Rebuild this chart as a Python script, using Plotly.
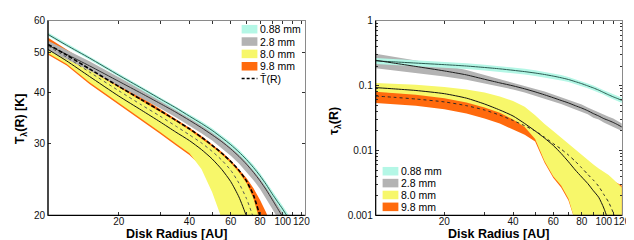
import math
import plotly.graph_objects as go

# ---------------- data: left panel, temperature T_lambda(R) [K] ----------------
R_T = [10, 12, 15, 20, 25, 30, 35, 40, 45, 50, 55, 60, 65, 70, 75, 80, 85, 90, 95, 100, 105, 110]

T_088_mid = [55.5, 52.2, 48.6, 44.1, 41.0, 38.6, 36.7, 35.0, 33.6, 32.3, 31.0, 29.8, 28.6, 27.4, 26.2, 25.0, 23.8, 22.6, 21.6, 20.7, 19.8, 19.0]
T_088_lo = [55.0, 51.7, 48.1, 43.7, 40.6, 38.2, 36.3, 34.6, 33.2, 31.9, 30.6, 29.4, 28.2, 27.0, 25.8, 24.6, 23.4, 22.2, 21.2, 20.3, 19.4, 18.6]
T_088_hi = [56.1, 52.8, 49.1, 44.6, 41.5, 39.0, 37.1, 35.4, 34.0, 32.7, 31.4, 30.2, 29.0, 27.8, 26.6, 25.4, 24.2, 23.0, 22.0, 21.1, 20.2, 19.4]

T_28_mid = [52.2, 49.6, 46.5, 42.6, 39.8, 37.6, 35.8, 34.2, 32.8, 31.5, 30.3, 29.1, 27.9, 26.7, 25.5, 24.3, 23.1, 21.9, 20.8, 19.8, 18.8, 17.9]
T_28_lo = [50.8, 48.3, 45.3, 41.5, 38.8, 36.6, 34.8, 33.2, 31.8, 30.5, 29.2, 28.0, 26.8, 25.6, 24.4, 23.2, 22.0, 20.8, 19.7, 18.7, 17.7, 16.8]
T_28_hi = [53.6, 50.9, 47.7, 43.6, 40.7, 38.4, 36.6, 35.0, 33.6, 32.3, 31.1, 29.9, 28.7, 27.5, 26.3, 25.1, 23.9, 22.7, 21.6, 20.6, 19.6, 18.6]

T_80_mid = [51.0, 47.8, 43.8, 39.2, 36.2, 33.9, 32.0, 30.5, 29.0, 27.5, 25.9, 24.2, 22.2, 19.9, 17.5]
T_80_lo = [49.9, 47.0, 42.4, 37.8, 34.5, 32.0, 30.0, 28.4, 26.0, 22.8, 19.6, 16.5, 14.0, 12.0, 10.5, 9.5, 8.5]
T_80_hi = [52.0, 49.0, 45.4, 41.2, 38.2, 35.9, 34.0, 32.4, 30.9, 29.5, 28.2, 26.9, 25.5, 24.0, 22.0, 19.5, 17.0]

T_98_mid = [52.0, 48.8, 44.9, 40.4, 37.3, 35.0, 33.1, 31.5, 30.1, 28.7, 27.3, 25.8, 24.0, 22.0, 19.7, 17.3]
T_98_lo = [49.5, 46.6, 42.0, 37.4, 34.2, 31.7, 29.7, 28.1, 26.4, 23.8, 21.0, 18.0, 15.0, 12.5, 10.5, 9.0, 8.0, 7.0]
T_98_hi = [54.5, 51.0, 47.0, 42.3, 39.0, 36.5, 34.4, 32.8, 31.3, 29.9, 28.6, 27.3, 26.0, 24.7, 23.3, 21.8, 20.3, 18.7]

T_mean = [52.5, 49.4, 45.7, 41.4, 38.4, 36.1, 34.2, 32.6, 31.1, 29.7, 28.4, 27.1, 25.8, 24.3, 22.4, 19.9, 17.2]

# ---------------- data: right panel, optical depth tau_lambda(R) ----------------
R_tau = [10, 12, 15, 20, 25, 30, 35, 40, 45, 50, 55, 60, 65, 70, 75, 80, 85, 90, 95, 100, 105, 110, 115, 120]

tau_088_mid = [0.240, 0.232, 0.222, 0.210, 0.200, 0.190, 0.181, 0.172, 0.164, 0.156, 0.148, 0.140, 0.132, 0.124, 0.115, 0.107, 0.099, 0.092, 0.085, 0.078, 0.072, 0.067, 0.063, 0.059]
tau_088_lo = [0.214, 0.207, 0.199, 0.189, 0.180, 0.171, 0.163, 0.155, 0.148, 0.141, 0.134, 0.127, 0.120, 0.113, 0.105, 0.098, 0.091, 0.084, 0.078, 0.072, 0.066, 0.061, 0.058, 0.054]
tau_088_hi = [0.266, 0.257, 0.246, 0.232, 0.221, 0.210, 0.200, 0.190, 0.181, 0.172, 0.163, 0.154, 0.145, 0.136, 0.126, 0.117, 0.108, 0.100, 0.093, 0.085, 0.079, 0.073, 0.069, 0.065]

tau_28_mid = [0.245, 0.222, 0.197, 0.168, 0.146, 0.125, 0.110, 0.099, 0.089, 0.080, 0.072, 0.065, 0.059, 0.054, 0.049, 0.045, 0.041, 0.037, 0.034, 0.031, 0.029, 0.027, 0.025, 0.023]
tau_28_lo = [0.185, 0.172, 0.157, 0.138, 0.123, 0.108, 0.096, 0.087, 0.078, 0.070, 0.063, 0.057, 0.052, 0.047, 0.043, 0.039, 0.036, 0.032, 0.030, 0.027, 0.025, 0.023, 0.022, 0.020]
tau_28_hi = [0.310, 0.280, 0.245, 0.205, 0.174, 0.146, 0.126, 0.112, 0.100, 0.090, 0.081, 0.073, 0.066, 0.061, 0.055, 0.051, 0.046, 0.042, 0.038, 0.035, 0.033, 0.031, 0.028, 0.026]

tau_80_mid = [0.093, 0.089, 0.084, 0.075, 0.064, 0.052, 0.042, 0.034, 0.026, 0.020, 0.0155, 0.012, 0.0090, 0.0067, 0.0050, 0.0039, 0.0031, 0.0024, 0.0019, 0.0013, 0.0008, 0.0005]
tau_80_lo = [0.080, 0.077, 0.072, 0.064, 0.055, 0.046, 0.038, 0.030, 0.023, 0.0150, 0.0068, 0.0040, 0.0029, 0.0018, 0.0008, 0.0005, 0.0005, 0.0005, 0.0005, 0.0005, 0.0005, 0.0005, 0.0005, 0.0005]
tau_80_hi = [0.110, 0.107, 0.103, 0.095, 0.087, 0.078, 0.068, 0.058, 0.047, 0.035, 0.0255, 0.0199, 0.0158, 0.0127, 0.0104, 0.0084, 0.0071, 0.0061, 0.0053, 0.0047, 0.0042, 0.0036, 0.0031, 0.0027]

tau_98_mid = [0.069, 0.066, 0.062, 0.056, 0.049, 0.042, 0.035, 0.029, 0.024, 0.020, 0.016, 0.0128, 0.0105, 0.0085, 0.0068, 0.0054, 0.0043, 0.0035, 0.0028, 0.0021, 0.0016, 0.0011, 0.0007]
tau_98_lo = [0.054, 0.052, 0.049, 0.043, 0.037, 0.031, 0.026, 0.021, 0.0175, 0.0138, 0.0065, 0.0038, 0.0027, 0.0017, 0.00075, 0.0004, 0.0004, 0.0004, 0.0004, 0.0004, 0.0004, 0.0004, 0.0004, 0.0004]
tau_98_hi = [0.082, 0.079, 0.074, 0.066, 0.057, 0.048, 0.040, 0.032, 0.025, 0.018, 0.012, 0.009, 0.0075, 0.0065, 0.0058, 0.0052, 0.0047, 0.0044, 0.0042, 0.0040, 0.0037, 0.0034, 0.0031, 0.0029]

wavelengths = ["0.88 mm", "2.8 mm", "8.0 mm", "9.8 mm"]
mean_label = "T\u0304(R)"

# ---------------- styles ----------------
FILL = {"0.88 mm": "#b4f7e6", "2.8 mm": "#b3b3b3", "8.0 mm": "#f7f76a", "9.8 mm": "#ff6a0d"}
LINE = {"0.88 mm": "#2c5c52", "2.8 mm": "#333333", "8.0 mm": "#111111", "9.8 mm": "#555555"}
FONT = "Liberation Sans, Arial, Helvetica, sans-serif"
W, H = 634, 240

fig = go.Figure()


def band(x, lo, hi, name, xa, ya):
    fig.add_trace(go.Scatter(x=x[:len(lo)], y=lo, mode="lines", line=dict(width=0),
                             showlegend=False, hoverinfo="skip", xaxis=xa, yaxis=ya))
    fig.add_trace(go.Scatter(x=x[:len(hi)], y=hi, mode="lines", line=dict(width=0),
                             fill="tonexty", fillcolor=FILL[name], name=name, showlegend=False,
                             hoverinfo="skip", xaxis=xa, yaxis=ya))


def curve(x, y, color, xa, ya, dash="solid", width=1.0):
    fig.add_trace(go.Scatter(x=x[:len(y)], y=y, mode="lines",
                             line=dict(color=color, width=width, dash=dash, shape="spline", smoothing=0.6),
                             showlegend=False, hoverinfo="skip", xaxis=xa, yaxis=ya))


# left panel bands (bottom to top)
band(R_T, T_98_lo, T_98_hi, "9.8 mm", "x", "y")
band(R_T, T_80_lo, T_80_hi, "8.0 mm", "x", "y")
band(R_T, T_28_lo, T_28_hi, "2.8 mm", "x", "y")
band(R_T, T_088_lo, T_088_hi, "0.88 mm", "x", "y")
curve(R_T, T_088_mid, LINE["0.88 mm"], "x", "y")
curve(R_T, T_28_mid, LINE["2.8 mm"], "x", "y")
curve(R_T, T_80_mid, LINE["8.0 mm"], "x", "y")
curve(R_T, T_98_mid, LINE["9.8 mm"], "x", "y", dash="dot")
curve(R_T, T_mean, "#000000", "x", "y", dash="4px,2px", width=1.6)

# right panel bands
band(R_tau, tau_98_lo, tau_98_hi, "9.8 mm", "x2", "y2")
band(R_tau, tau_80_lo, tau_80_hi, "8.0 mm", "x2", "y2")
band(R_tau, tau_28_lo, tau_28_hi, "2.8 mm", "x2", "y2")
band(R_tau, tau_088_lo, tau_088_hi, "0.88 mm", "x2", "y2")
curve(R_tau, tau_088_mid, LINE["0.88 mm"], "x2", "y2")
curve(R_tau, tau_28_mid, "#1e1e1e", "x2", "y2")
curve(R_tau, tau_80_mid, LINE["8.0 mm"], "x2", "y2")
curve(R_tau, tau_98_mid, "#2a2a2a", "x2", "y2", dash="dot")

# ---------------- axes ----------------
def px2x(p):
    return p / W


def px2y(p):
    return 1 - p / H


L_dom = [px2x(40.7), px2x(301.0)]
R_dom = [px2x(373.0), px2x(622.7)]
Y_dom = [px2y(212.0), px2y(7.0)]

x_ticks = [20, 30, 40, 50, 60, 70, 80, 90, 100, 110, 120]
x_text = ["20", "", "40", "", "60", "", "80", "", "100", "", "120"]
yT_ticks = [20, 30, 40, 50, 60]
ytau_ticks = [0.001, 0.01, 0.1, 1]
ytau_text = ["0.001", "0.01", "0.1", "1"]

common = dict(showgrid=False, zeroline=False, showline=True, linecolor="#8a8a8a", linewidth=1,
              mirror="ticks", ticks="inside", ticklen=3, tickcolor="#333333", tickangle=0,
              tickfont=dict(family=FONT, size=10, color="#111111"))

fig.update_layout(
    width=W, height=H, margin=dict(l=0, r=0, t=0, b=0),
    paper_bgcolor="white", plot_bgcolor="white", showlegend=False,
    font=dict(family=FONT, size=10, color="black"),
    xaxis=dict(type="log", domain=L_dom, range=[1, math.log10(124)], tickvals=x_ticks, ticktext=x_text,
               anchor="y", ticklabelstandoff=-3, **common),
    yaxis=dict(type="log", domain=Y_dom, range=[math.log10(20), math.log10(60)], tickvals=yT_ticks,
               anchor="x", **common),
    xaxis2=dict(type="log", domain=R_dom, range=[1, math.log10(120)], tickvals=x_ticks, ticktext=x_text,
                anchor="y2", ticklabelstandoff=-3, **common),
    yaxis2=dict(type="log", domain=Y_dom, range=[-3, 0], tickvals=ytau_ticks, ticktext=ytau_text,
                anchor="x2", minor=dict(ticks="inside", ticklen=2, tickcolor="#333333",
                                        tickvals=[0.002, 0.003, 0.004, 0.005, 0.006, 0.007, 0.008, 0.009,
                                                  0.02, 0.03, 0.04, 0.05, 0.06, 0.07, 0.08, 0.09,
                                                  0.2, 0.3, 0.4, 0.5, 0.6, 0.7, 0.8, 0.9]),
                **common),
)

# black left/bottom frame lines
for xa, ya in (("x", "y"), ("x2", "y2")):
    fig.add_shape(type="line", xref=f"{xa} domain", yref=f"{ya} domain", x0=0, x1=0, y0=0, y1=1,
                  line=dict(color="black", width=1.2))
    fig.add_shape(type="line", xref=f"{xa} domain", yref=f"{ya} domain", x0=0, x1=1, y0=0, y1=0,
                  line=dict(color="black", width=1.2))

# axis titles
title_font = dict(family=FONT, size=12.5, color="black")
for xc, txt, ang, yc in ((171, "<b>Disk Radius [AU]</b>", 0, 232),
                         (498, "<b>Disk Radius [AU]</b>", 0, 232),
                         (14, "<b>T<sub>\u03bb</sub>(R) [K]</b>", -90, 110),
                         (332, "<b>\u03c4<sub>\u03bb</sub>(R)</b>", -90, 112)):
    fig.add_annotation(text=txt, x=px2x(xc), y=px2y(yc), xref="paper", yref="paper",
                       xanchor="center", yanchor="middle", showarrow=False, textangle=ang, font=title_font)

# legends (drawn as swatches + text)
leg_font = dict(family=FONT, size=10.5, color="black")


def legend_block(x0, ys, names, with_mean):
    for yy, nm in zip(ys, names):
        fig.add_shape(type="rect", xref="paper", yref="paper", x0=px2x(x0), x1=px2x(x0 + 16),
                      y0=px2y(yy + 4.5), y1=px2y(yy - 4.5), line=dict(width=0), fillcolor=FILL[nm])
        fig.add_annotation(text=nm, x=px2x(x0 + 17), y=px2y(yy), xref="paper", yref="paper",
                           xanchor="left", yanchor="middle", showarrow=False, font=leg_font)
    if with_mean:
        yy = ys[-1] + (ys[1] - ys[0])
        fig.add_shape(type="line", xref="paper", yref="paper", x0=px2x(x0), x1=px2x(x0 + 16),
                      y0=px2y(yy), y1=px2y(yy), line=dict(color="black", width=1.5, dash="3px,2px"))
        fig.add_annotation(text=mean_label, x=px2x(x0 + 17), y=px2y(yy), xref="paper", yref="paper",
                           xanchor="left", yanchor="middle", showarrow=False, font=leg_font)


legend_block(237, [16, 29, 42, 55], wavelengths, True)
legend_block(380, [165.5, 178, 190.5, 203], wavelengths, False)

fig.write_html("out.html")
